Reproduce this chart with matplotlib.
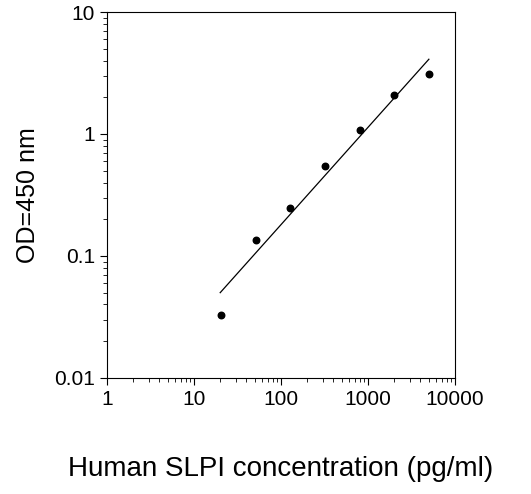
import matplotlib
matplotlib.use("Agg")
import matplotlib.pyplot as plt
import numpy as np

conc = [20.5, 51.2, 128, 320, 800, 2000, 5000]
od = [0.033, 0.135, 0.245, 0.55, 1.08, 2.1, 3.1]
fit_x = [20, 5000]
fit_y = [0.05, 4.1]

plt.rcParams['font.family'] = ['Liberation Sans', 'DejaVu Sans']
fig = plt.figure(figsize=(5.31, 4.94), dpi=100)
ax = fig.add_axes([0.2015, 0.235, 0.6555, 0.7407])
ax.plot(fit_x, fit_y, color='black', lw=0.9)
ax.scatter(conc, od, s=22, color='black', zorder=3)
ax.set_xscale('log'); ax.set_yscale('log')
ax.set_xlim(1, 10000); ax.set_ylim(0.01, 10)
ax.set_xticks([1, 10, 100, 1000, 10000])
ax.set_xticklabels(['1', '10', '100', '1000', '10000'])
ax.set_yticks([0.01, 0.1, 1, 10])
ax.set_yticklabels(['0.01', '0.1', '1', '10'])
ax.tick_params(which='major', labelsize=15, length=5, direction='out')
ax.tick_params(which='minor', length=3, direction='out')
ax.set_xlabel('Human SLPI concentration (pg/ml)', fontsize=20, labelpad=34)
ax.set_ylabel('OD=450 nm', fontsize=18, labelpad=10)
fig.savefig('out.png', dpi=100)
